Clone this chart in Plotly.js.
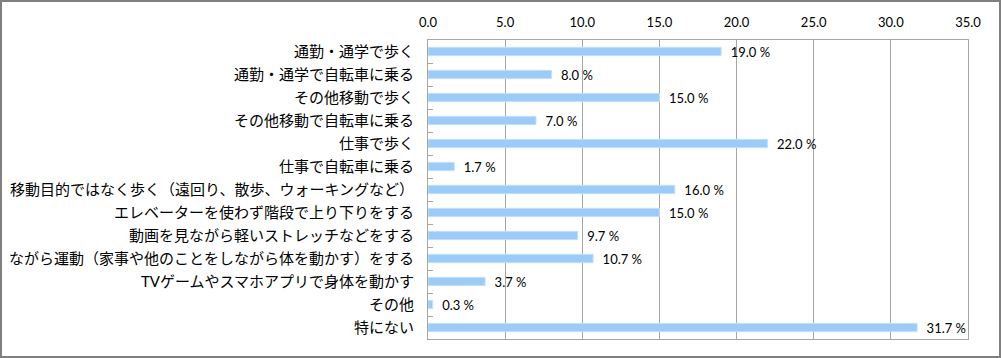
<!DOCTYPE html>
<html><head><meta charset="utf-8">
<script src="https://cdn.plot.ly/plotly-3.0.1.min.js"></script>
<style>
html,body{margin:0;padding:0;background:#fff;}
#wrap{position:absolute;left:0;top:0;width:997px;height:354px;border:2px solid #808080;}
#chart{position:absolute;left:-2px;top:-2px;width:1001px;height:358px;}
</style></head>
<body><div id="wrap"><div id="chart"></div></div>
<script>
const categories = [
  "通勤・通学で歩く",
  "通勤・通学で自転車に乗る",
  "その他移動で歩く",
  "その他移動で自転車に乗る",
  "仕事で歩く",
  "仕事で自転車に乗る",
  "移動目的ではなく歩く（遠回り、散歩、ウォーキングなど）",
  "エレベーターを使わず階段で上り下りをする",
  "動画を見ながら軽いストレッチなどをする",
  "ながら運動（家事や他のことをしながら体を動かす）をする",
  "TVゲームやスマホアプリで身体を動かす",
  "その他",
  "特にない"
];
const values = [19.0, 8.0, 15.0, 7.0, 22.0, 1.7, 16.0, 15.0, 9.7, 10.7, 3.7, 0.3, 31.7];
const xTicks = [0, 5, 10, 15, 20, 25, 30, 35];

const cjk = "'Lato', 'Noto Sans CJK JP', sans-serif";
const num = "'Lato', 'Noto Sans', sans-serif";
Plotly.newPlot('chart', [{
  type: 'bar',
  orientation: 'h',
  y: categories,
  x: values,
  marker: {color: '#9ccbf7', line: {color: '#c2e0fb', width: 1}},
  text: values.map(v => '\u2002' + v.toFixed(1) + ' %'),
  textposition: 'outside',
  constraintext: 'none',
  textfont: {family: num, size: 13, color: '#000'},
  cliponaxis: false,
  hoverinfo: 'none'
}], {
  width: 1001, height: 358,
  margin: {l: 428, r: 33, t: 40, b: 19, pad: 0},
  paper_bgcolor: 'rgba(0,0,0,0)',
  plot_bgcolor: '#fff',
  bargap: 0.64,
  showlegend: false,
  font: {family: cjk, size: 13, color: '#000'},
  xaxis: {
    side: 'top', range: [0, 35], tickvals: xTicks,
    ticktext: xTicks.map(v => v.toFixed(1)),
    showgrid: true, gridcolor: '#a6a6a6', gridwidth: 1,
    showline: true, linecolor: '#a6a6a6', mirror: true,
    zeroline: false, ticks: '', ticklabelstandoff: 7,
    tickfont: {family: num, size: 13, color: '#000'},
    fixedrange: true
  },
  yaxis: {
    autorange: 'reversed', type: 'category',
    showline: true, linecolor: '#a6a6a6', mirror: true,
    ticks: 'inside', tickson: 'boundaries', ticklen: 5, tickcolor: '#a6a6a6',
    ticklabelstandoff: 10, showgrid: false,
    tickfont: {family: cjk, size: 15, color: '#000'},
    fixedrange: true
  }
}, {displayModeBar: false, staticPlot: true});
</script></body></html>
